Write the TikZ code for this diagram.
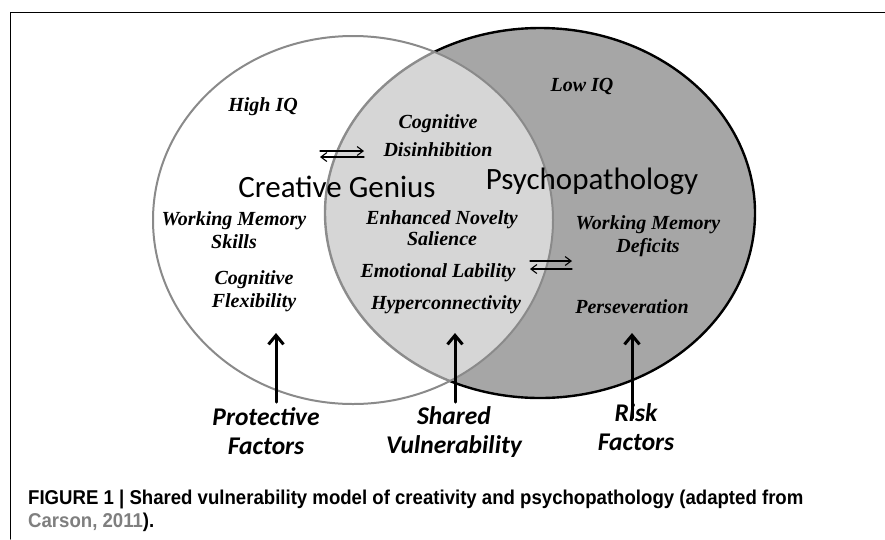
\documentclass[tikz,border=0pt]{standalone}
\usepackage{fontspec}
\usetikzlibrary{arrows.meta}
\newfontfamily\tnrfont{Liberation Serif}
\newfontfamily\calfont{Carlito}
\newfontfamily\capfont[FakeStretch=0.93]{Liberation Sans}
\definecolor{riskgray}{HTML}{A6A6A6}
\definecolor{rimgray}{HTML}{8A8A8A}
\definecolor{refgray}{HTML}{7F7F7F}
\tikzset{
  itlabel/.style={font=\tnrfont\bfseries\itshape\fontsize{20}{23}\selectfont, align=center, inner sep=0pt},
  biglabel/.style={font=\calfont\fontsize{31}{34}\selectfont, inner sep=0pt},
  factor/.style={font=\calfont\bfseries\itshape\fontsize{25.5}{29}\selectfont, align=center, inner sep=0pt},
  bigarrow/.style={-{Straight Barb[length=9pt,width=15pt]}, line width=3pt},
  swaparrow/.style={-{Straight Barb[length=6pt,width=9pt]}, line width=1.1pt},
}

\begin{document}
\begin{tikzpicture}[x=1pt, y=-1pt, line cap=round, line join=round]
\useasboundingbox (0,0) rectangle (885,539);
% frame
\draw[line width=1pt] (885,12) -- (10,12) -- (10,539);

%========================
% Venn shapes
%========================
\fill[riskgray] (540,213) ellipse [x radius=215, y radius=185];
\draw[line width=2.4pt] (540,213) ellipse [x radius=215, y radius=185];
\fill[white, fill opacity=0.55] (353,220) ellipse [x radius=200, y radius=184];
\draw[rimgray, line width=2pt] (353,220) ellipse [x radius=200, y radius=184];

%========================
% labels
%========================
\node[itlabel] (hiq) at (263,107) {High IQ};
\node[itlabel] (loiq) at (582,86) {Low IQ};
\node[itlabel] (cogdis) at (438,136) {Cognitive\\[5pt]Disinhibition};
\node[biglabel] (crgen) at (337,187) {Creative Genius};
\node[biglabel] (psych) at (592,181) {Psychopathology};
\node[itlabel] (wmskill) at (234,230) {Working Memory\\Skills};
\node[itlabel] (novelty) at (442,228) {Enhanced Novelty\\[-2pt]Salience};
\node[itlabel] (wmdef) at (648,236) {Working Memory\\Deficits};
\node[itlabel] (cogflex) at (254,291) {Cognitive\\Flexibility};
\node[itlabel] (emolab) at (438,273) {Emotional Lability};
\node[itlabel] (hyper) at (446,305) {Hyperconnectivity};
\node[itlabel] (persev) at (632,307) {Perseveration};

% two-way swaps
\coordinate (swapAl) at (320,157);
\coordinate (swapAr) at (364,157);
\draw[swaparrow] (swapAr) -- (swapAl);
\draw[swaparrow] ([yshift=6]swapAl) -- ([yshift=6]swapAr);
\coordinate (swapBl) at (530,269);
\coordinate (swapBr) at (572,269);
\draw[swaparrow] (swapBr) -- (swapBl);
\draw[swaparrow] ([yshift=8]swapBl) -- ([yshift=8]swapBr);

%========================
% factors
%========================
\node[factor] (protect) at (266,431) {Protective\\Factors};
\node[factor] (shared) at (454,432) {Shared\\Vulnerability};
\node[factor] (risk) at (636,427) {Risk\\Factors};
\coordinate (prottip) at (276,333);
\coordinate (sharedtip) at (455,333);
\coordinate (risktip) at (632,333);
\draw[bigarrow] (prottip |- 0,402) -- (prottip);
\draw[bigarrow] (sharedtip |- 0,402) -- (sharedtip);
\draw[bigarrow] (risktip |- 0,418) -- (risktip);

% caption
\node[font=\capfont\bfseries\fontsize{20}{22.5}\selectfont, anchor=north west, align=left, inner sep=0pt] (caption) at (28,490)
  {FIGURE 1 | Shared vulnerability model of creativity and psychopathology (adapted from\\
   \textcolor{refgray}{Carson, 2011}).};
\end{tikzpicture}
\end{document}
